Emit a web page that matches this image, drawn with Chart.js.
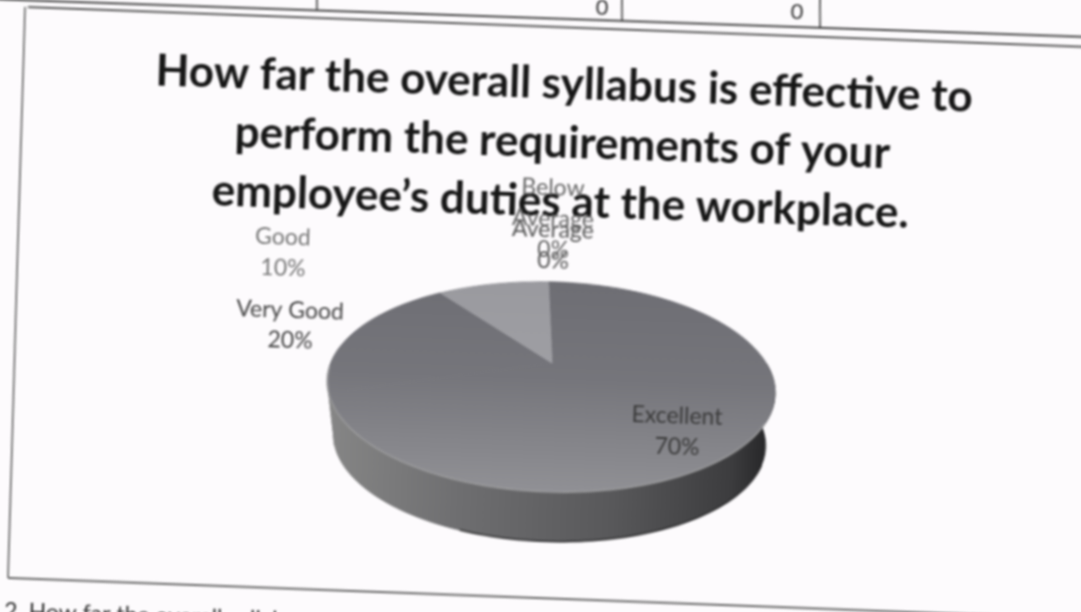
<!DOCTYPE html>
<html>
<head>
<meta charset="utf-8">
<title>Syllabus effectiveness</title>
<script src="https://cdn.jsdelivr.net/npm/chart.js@4"></script>
<style>
    html, body { margin: 0; width: 1081px; height: 612px; overflow: hidden; background: #fdfbfd; }
    #chart { position: absolute; left: -60px; top: -60px; transform-origin: 600.5px 366px; transform: rotate(1.85deg); filter: blur(0.9px); }
</style>
</head>
<body>
<canvas id="chart" width="1234" height="740"></canvas>
<script>
const categories = ["Excellent", "Very Good", "Good", "Average", "Below Average"];
const shares = [70, 20, 10, 0, 0];
const titleLines = [
    "How far the overall syllabus is effective to",
    "perform the requirements of your",
    "employee\u2019s duties at the workplace."
];
const sliceColors = ["#6e6e74", "#6e6e74", "#9a9a9f", "#8a8a8a", "#8a8a8a"];
const tableZeros = ["0", "0"];
const nextQuestion = "2. How far the overall syllabus";

// layout, page coordinates (the sheet is scanned a bit crooked, canvas gets rotated)
const TILT = 1.85 * Math.PI / 180;
const labelLayout = [
    { x: 677, y: 416, color: "#3a3a3a" },
    { x: 290, y: 310, color: "#444444" },
    { x: 283, y: 237, color: "#777777" },
    { x: 553, y: 230, color: "#555555" },
    { x: 553, y: 188, color: "#666666" }
];

function toCanvas(x, y) {
    const dx = x - 540.5, dy = y - 306;
    const c = Math.cos(TILT), s = Math.sin(TILT);
    return [c * dx + s * dy + 600.5, -s * dx + c * dy + 366];
}

const apex = toCanvas(552, 363);
const RX = 218, RY = 99.5, PERSP = 0.2286, DEPTH = 54;

// perspective view of the pie: angle from the arc element goes to a spot on the tilted disc
function project(angle, r = 1, drop = 0, shrink = 1) {
    const u = Math.cos(angle) * r, v = Math.sin(angle) * r;
    const w = 1 - PERSP * v;
    return [apex[0] + RX * shrink * u / w, apex[1] + RY * shrink * v / w + drop];
}

function traceRim(ctx, from, to, drop, shrink, first) {
    const steps = Math.max(2, Math.ceil(Math.abs(to - from) * 40));
    for (let i = 0; i <= steps; i++) {
        const p = project(from + (to - from) * i / steps, 1, drop, shrink);
        if (i === 0 && first) ctx.moveTo(p[0], p[1]);
        else ctx.lineTo(p[0], p[1]);
    }
}

const pie3d = {
    id: "pie3d",
    beforeDatasetDraw(chart, args) {
        const ctx = chart.ctx;
        const arcs = args.meta.data;

        // side wall first, only the near half of the disc shows it
        const wall = ctx.createLinearGradient(apex[0] - RX, 0, apex[0] + RX, 0);
        wall.addColorStop(0, "#858585");
        wall.addColorStop(0.3, "#6e6e70");
        wall.addColorStop(0.65, "#58585a");
        wall.addColorStop(0.92, "#3c3c3e");
        wall.addColorStop(1, "#262628");
        arcs.forEach(function (arc) {
            const from = Math.max(arc.startAngle, -0.06);
            const to = Math.min(arc.endAngle, Math.PI + 0.1);
            if (to <= from) return;
            ctx.beginPath();
            traceRim(ctx, from, to, 0, 1, true);
            traceRim(ctx, to, from, DEPTH, 0.965, false);
            ctx.closePath();
            ctx.fillStyle = wall;
            ctx.strokeStyle = wall;
            ctx.lineWidth = 1;
            ctx.fill();
            ctx.stroke();
        });

        // dark line along the foot of the wall
        ctx.beginPath();
        traceRim(ctx, 0.4, 1.9, DEPTH, 0.965, true);
        ctx.strokeStyle = "rgba(40,40,42,0.7)";
        ctx.lineWidth = 2;
        ctx.stroke();

        // top face, stroked in its own colour so no seam shows between slices
        arcs.forEach(function (arc, i) {
            if (arc.endAngle - arc.startAngle <= 0) return;
            ctx.beginPath();
            ctx.moveTo(apex[0], apex[1]);
            traceRim(ctx, arc.startAngle, arc.endAngle, 0, 1, false);
            ctx.closePath();
            ctx.fillStyle = sliceColors[i];
            ctx.strokeStyle = sliceColors[i];
            ctx.lineWidth = 1;
            ctx.fill();
            ctx.stroke();
        });

        // face gets lighter towards the viewer
        const shade = ctx.createLinearGradient(0, apex[1] - 80, 0, apex[1] + 130);
        shade.addColorStop(0, "rgba(255,255,255,0)");
        shade.addColorStop(0.45, "rgba(255,255,255,0.05)");
        shade.addColorStop(1, "rgba(255,255,255,0.24)");
        ctx.beginPath();
        traceRim(ctx, 0, Math.PI * 2, 0, 1, true);
        ctx.closePath();
        ctx.fillStyle = shade;
        ctx.fill();

        // pale rim where the face meets the wall
        ctx.beginPath();
        traceRim(ctx, 0.5, Math.PI - 0.1, 0, 1, true);
        ctx.strokeStyle = "rgba(165,165,165,0.6)";
        ctx.lineWidth = 2;
        ctx.stroke();
        return false;
    },
    afterDraw(chart) {
        const ctx = chart.ctx;
        ctx.save();
        ctx.textAlign = "center";
        ctx.textBaseline = "middle";
        ctx.font = "23px Lato";
        categories.forEach(function (name, i) {
            const spot = labelLayout[i];
            const lines = (name === "Very Good" ? [name] : name.split(" ")).concat(shares[i] + "%");
            lines.forEach(function (line, n) {
                const p = toCanvas(spot.x, spot.y + n * 31);
                ctx.fillStyle = spot.color;
                ctx.fillText(line, p[0], p[1]);
            });
        });
        ctx.restore();
    },
    beforeDraw(chart) {
        // bits of the scanned sheet around the chart box
        const ctx = chart.ctx;
        function line(x1, y1, x2, y2, w, col) {
            const a = toCanvas(x1, y1), b = toCanvas(x2, y2);
            ctx.beginPath();
            ctx.moveTo(a[0], a[1]);
            ctx.lineTo(b[0], b[1]);
            ctx.lineWidth = w;
            ctx.strokeStyle = col;
            ctx.stroke();
        }
        ctx.save();
        line(-10, -1, 1090, 37, 2, "#444");
        line(28, 7, 1090, 47, 2, "#555");
        line(25, 7, 8, 578, 1.5, "#555");
        line(8, 578, 1090, 619, 2, "#666");
        line(317, -2, 317, 10, 1.5, "#333");
        line(622, -2, 622, 21, 1.5, "#333");
        line(820, -2, 820, 28, 1.5, "#333");
        ctx.fillStyle = "#333";
        ctx.font = "22px Lato";
        ctx.textAlign = "center";
        ctx.textBaseline = "middle";
        [[602, 8], [797, 12]].forEach(function (pos, i) {
            const p = toCanvas(pos[0], pos[1]);
            ctx.fillText(tableZeros[i], p[0], p[1]);
        });
        ctx.textAlign = "left";
        ctx.font = "23px Lato";
        const q = toCanvas(4, 611);
        ctx.fillText(nextQuestion, q[0], q[1]);
        ctx.restore();
    }
};

new Chart(document.getElementById("chart"), {
    type: "pie",
    data: {
        labels: categories,
        datasets: [{ data: shares, backgroundColor: sliceColors, borderWidth: 0 }]
    },
    options: {
        responsive: false,
        animation: false,
        rotation: -2,
        plugins: {
            legend: { display: false },
            tooltip: { enabled: false },
            title: {
                display: true,
                text: titleLines,
                color: "#161616",
                font: { family: "Lato", size: 44, weight: "bold", lineHeight: 1.34 },
                padding: { top: 114, bottom: 10 }
            }
        }
    },
    plugins: [pie3d]
});
</script>
</body>
</html>
